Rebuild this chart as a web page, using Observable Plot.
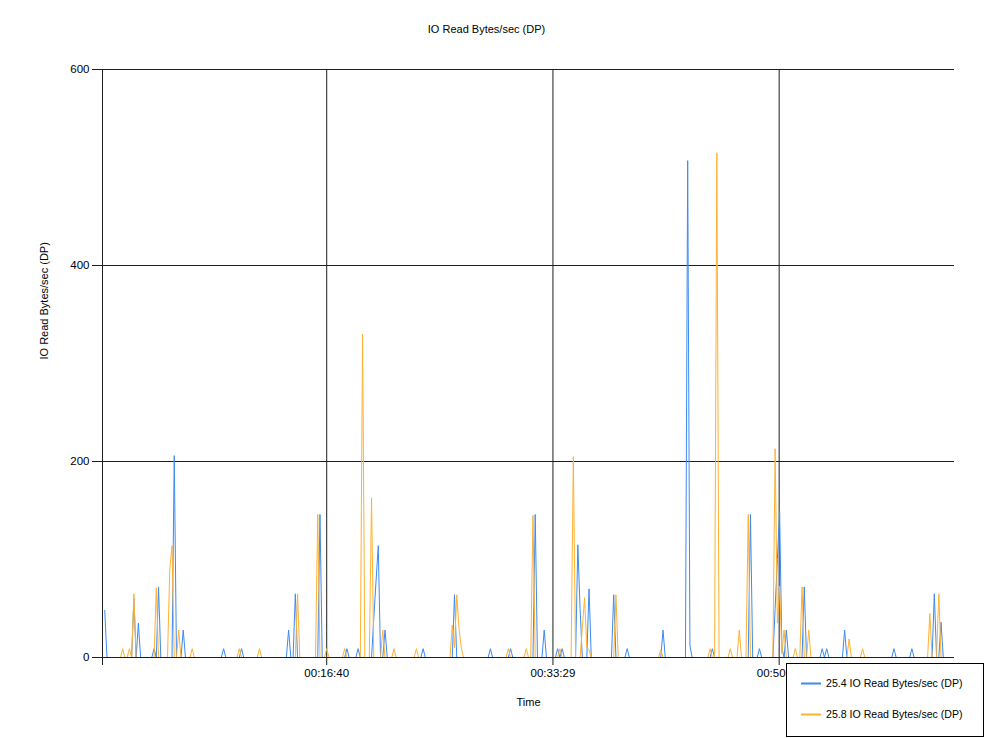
<!DOCTYPE html>
<html>
<head>
<meta charset="utf-8">
<script src="https://cdn.jsdelivr.net/npm/d3@7"></script>
<script src="https://cdn.jsdelivr.net/npm/@observablehq/plot@0.6"></script>
<style>
  body { margin: 0; background: #fff; }
  #chart { width: 984px; height: 738px; }
</style>
</head>
<body>
<div id="chart"></div>
<script>
// ---- data ----
const chartTitle = "IO Read Bytes/sec (DP)";
const yTitle = "IO Read Bytes/sec (DP)";
const xTitle = "Time";
const seriesNames = ["25.4 IO Read Bytes/sec (DP)", "25.8 IO Read Bytes/sec (DP)"];
const seriesColors = ["#3d8af2", "#ffb133"];

const sampleSeconds = 10;   // one reading every 10 s
const sampleCount = 375;    // readings 1..375

// readings that are not zero (sample number, value); all other readings are 0
const blueIdx = [1, 14, 16, 23, 25, 32, 36, 54, 62, 83, 86, 97, 109, 114, 121, 122, 123, 126, 143, 157, 173, 182, 193, 197, 203, 205, 212, 213, 217, 228, 234, 250, 261, 262, 272, 289, 293, 300, 301, 302, 303, 305, 313, 321, 323, 331, 353, 361, 371, 374];
const blueVal = [48, 60, 35, 9, 72, 206, 28, 9, 9, 28, 65, 146, 9, 9, 40, 78, 114, 28, 9, 64, 9, 9, 146, 28, 9, 9, 115, 50, 70, 64, 9, 28, 507, 12, 9, 146, 9, 50, 100, 149, 10, 28, 72, 9, 9, 28, 9, 9, 65, 36];

const orangeIdx = [9, 12, 14, 24, 30, 31, 34, 40, 61, 70, 87, 96, 100, 108, 116, 120, 125, 130, 140, 156, 157, 158, 159, 160, 181, 189, 192, 204, 210, 214, 215, 216, 217, 229, 249, 271, 274, 280, 284, 288, 300, 301, 302, 303, 304, 309, 312, 315, 333, 339, 369, 373];
const orangeVal = [9, 9, 65, 71, 90, 114, 28, 9, 9, 9, 65, 146, 9, 9, 330, 163, 28, 9, 9, 33, 10, 64, 30, 10, 9, 9, 145, 9, 205, 30, 61, 10, 8, 64, 8, 9, 515, 9, 28, 146, 213, 35, 73, 4, 28, 9, 72, 28, 19, 9, 45, 65];

const xTickValues = [0, 1000, 2009, 3018];
const xTickLabels = ["", "00:16:40", "00:33:29", "00:50:18"];
const yTickValues = [0, 200, 400, 600];
const yGridValues = [200, 400, 600];
const xGridValues = [1000, 2009, 3018];

function buildSeries(idx, val, name) {
  const lookup = new Map(idx.map((k, j) => [k, val[j]]));
  const rows = [];
  for (let i = 1; i <= sampleCount; i++) {
    rows.push({ t: i * sampleSeconds, v: lookup.has(i) ? lookup.get(i) : 0, series: name });
  }
  return rows;
}
const blueData = buildSeries(blueIdx, blueVal, seriesNames[0]);
const orangeData = buildSeries(orangeIdx, orangeVal, seriesNames[1]);

const gridColor = "#1e1e1e";

const plot = Plot.plot({
  width: 984,
  height: 738,
  marginLeft: 102,
  marginRight: 30,
  marginTop: 69,
  marginBottom: 81,
  style: { fontFamily: "'Liberation Sans', Arial, sans-serif", fontSize: "11.5px", background: "#fff", color: "#000" },
  x: { domain: [0, 3800] },
  y: { domain: [0, 600] },
  marks: [
    Plot.gridY({ ticks: yGridValues, stroke: gridColor, strokeOpacity: 1 }),
    Plot.gridX({ ticks: xGridValues, stroke: gridColor, strokeOpacity: 1 }),
    Plot.lineY(blueData, { x: "t", y: "v", stroke: seriesColors[0], strokeWidth: 1 }),
    Plot.lineY(orangeData, { x: "t", y: "v", stroke: seriesColors[1], strokeWidth: 1 }),
    Plot.ruleY([0], { stroke: gridColor }),
    Plot.ruleX([0], { stroke: gridColor }),
    Plot.axisY({ ticks: yTickValues, tickSize: 10, tickPadding: 3, label: null, stroke: gridColor }),
    Plot.axisX({ ticks: xTickValues, tickSize: 8, tickPadding: 3, label: null, stroke: gridColor,
                 tickFormat: (d) => xTickLabels[xTickValues.indexOf(d)] }),
    Plot.text([chartTitle], { frameAnchor: "top", lineAnchor: "middle", dx: -42, dy: -40, fontSize: 11 }),
    Plot.text([yTitle], { frameAnchor: "left", dx: -58, dy: -4, rotate: -90, fontSize: 11 }),
    Plot.text([xTitle], { frameAnchor: "bottom", lineAnchor: "middle", dy: 45, fontSize: 11 })
  ]
});

// legend box (bottom right, overlapping the last tick label as in the reference)
const svg = d3.select(plot);
const lg = svg.append("g").attr("class", "legend").attr("text-anchor", "start");
lg.append("rect")
  .attr("x", 786.5).attr("y", 663.5).attr("width", 197).attr("height", 73)
  .attr("fill", "#fff").attr("stroke", "#000").attr("stroke-width", 1);
seriesNames.forEach((name, k) => {
  const y = 683.5 + k * 31;
  lg.append("line").attr("x1", 801).attr("x2", 821).attr("y1", y).attr("y2", y)
    .attr("stroke", seriesColors[k]).attr("stroke-width", 2);
  lg.append("text").attr("x", 826).attr("y", y).attr("dy", "0.35em")
    .attr("text-anchor", "start")
    .attr("font-size", "10.6px").attr("fill", "#000").text(name);
});

document.getElementById("chart").appendChild(plot);
</script>
</body>
</html>
